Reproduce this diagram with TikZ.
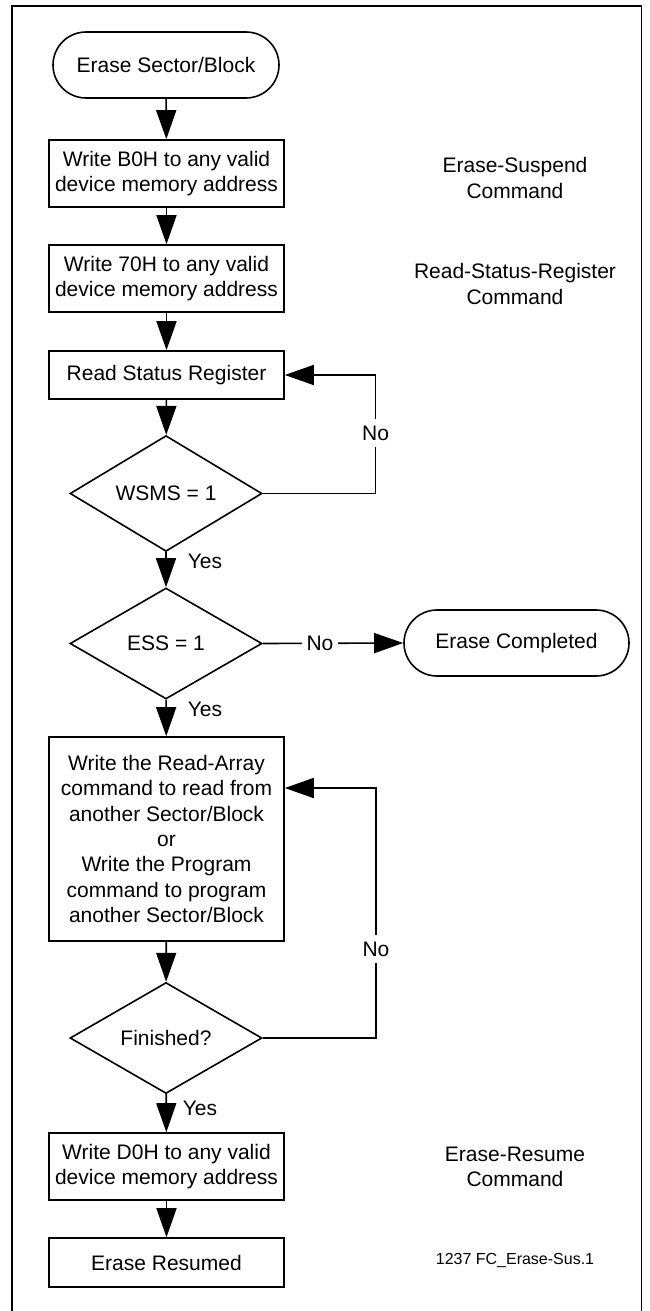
\documentclass[tikz,border=0pt]{standalone}
\usepackage{fontspec}
\setmainfont{Liberation Sans}
\usetikzlibrary{shapes.geometric,arrows.meta,calc}
\begin{document}
\begin{tikzpicture}[x=1pt,y=-1pt,
  every node/.style={font=\fontsize{21}{25.3}\selectfont, align=center, inner sep=0pt},
  lw/.style={line width=1.6pt},
  boxnode/.style={lw, draw, rectangle, minimum width=235pt},
  termnode/.style={lw, draw, rectangle, rounded corners=33pt, minimum height=66pt},
  decnode/.style={lw, draw, diamond, minimum width=192pt, minimum height=111pt},
  lbl/.style={fill=white, inner xsep=5pt, inner ysep=7pt},
  arr/.style={lw, -{Triangle[length=29pt,width=20pt]}},
  ln/.style={lw}
]
\useasboundingbox (0,0) rectangle (650,1311);
\draw[line width=1.8pt] (12,1311) -- (12,6) -- (641.5,6) -- (641.5,1311);

\node[termnode, minimum width=226pt] (start) at (166,65) {Erase Sector/Block};
\node[boxnode, minimum height=67pt] (b1) at (166.5,173.5) {Write B0H to any valid\\device memory address};
\node[boxnode, minimum height=67pt] (b2) at (166.5,278.5) {Write 70H to any valid\\device memory address};
\node[boxnode, minimum height=48pt] (b3) at (166.5,375) {Read Status Register};
\node[decnode] (d1) at (166,493.5) {WSMS = 1};
\node[decnode] (d2) at (166,643.5) {ESS = 1};
\node[termnode, minimum width=225pt] (ec) at (516.5,643) {Erase Completed};
\node[boxnode, minimum height=204pt] (b4) at (166.5,839) {Write the Read-Array\\command to read from\\another Sector/Block\\or\\Write the Program\\command to program\\another Sector/Block};
\node[decnode] (d3) at (166,1038) {Finished?};
\node[boxnode, minimum height=67pt] (b5) at (166.5,1166.5) {Write D0H to any valid\\device memory address};
\node[boxnode, minimum height=49pt] (b6) at (166.5,1262.5) {Erase Resumed};

\node (a1) at (515,178) {Erase-Suspend\\Command};
\node (a2) at (515,284) {Read-Status-Register\\Command};
\node (a3) at (515,1167) {Erase-Resume\\Command};
\node[font=\fontsize{16}{19}\selectfont] (a4) at (515,1260) {1237 FC\_Erase-Sus.1};

\draw[arr] (start) -- (b1);
\draw[arr] (b1) -- (b2);
\draw[arr] (b2) -- (b3);
\draw[arr] (b3) -- (d1);
\draw[arr] (d1) -- (d2);
\draw[arr] (d2) -- (b4);
\draw[arr] (b4) -- (d3);
\draw[arr] (d3) -- (b5);
\draw[arr] (b5) -- (b6);

\coordinate (l1) at (375.6,493.5);
\coordinate (l2) at (375.6,375);
\draw[arr] (d1.east) -- (l1) -- (l2) -- (b3.east);
\node[lbl] (no1) at (375.6,433) {No};

\draw[arr] (d2.east) -- (ec.west);
\node[lbl] (no2) at (320,643.5) {No};

\coordinate (l3) at (376,1038);
\coordinate (l4) at (376,788);
\draw[arr] (d3.east) -- (l3) -- (l4) -- (b4.east |- l4);
\node[lbl] (no3) at (376,949) {No};

\node (y1) at (205,561) {Yes};
\node (y2) at (205,709) {Yes};
\node (y3) at (200,1108) {Yes};
\end{tikzpicture}
\end{document}
